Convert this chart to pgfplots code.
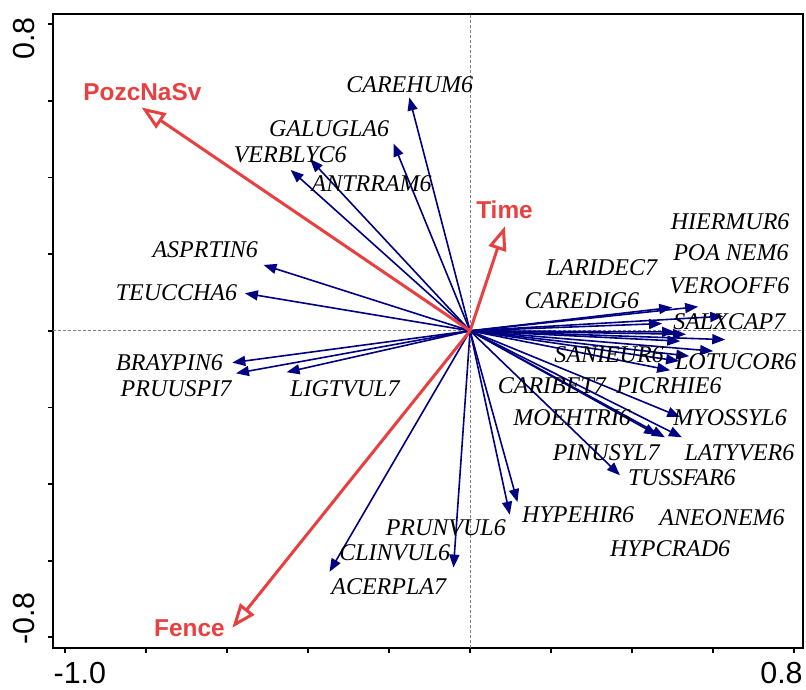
\documentclass[border=0pt]{standalone}
\usepackage{pgfplots}
\pgfplotsset{compat=1.18}
\usepackage{pgfplotstable}
\usepackage{fontspec}
\setmainfont{Liberation Serif}
\setsansfont{Liberation Sans}
\usetikzlibrary{arrows.meta}
\definecolor{envred}{RGB}{232,64,64}
\definecolor{spnavy}{RGB}{0,0,128}
\tikzset{
  sp/.style={font=\itshape\fontsize{12}{12}\selectfont, inner sep=0pt, text=black},
  ev/.style={font=\sffamily\bfseries\fontsize{12.2}{12}\selectfont, inner sep=0pt, text=envred},
  tl/.style={font=\sffamily\fontsize{15.2}{15.2}\selectfont, inner sep=0pt}
}

% species arrows: origin (x,y), tip (u,v)
\pgfplotstableread{
x y u v
0 0 0.563 0.063
0 0 0.499 0.061
0 0 0.474 0.019
0 0 0.625 0.038
0 0 0.506 -0.003
0 0 0.533 -0.009
0 0 0.630 -0.023
0 0 0.519 -0.027
0 0 0.600 -0.053
0 0 0.541 -0.066
0 0 0.516 -0.079
0 0 0.494 -0.103
0 0 0.519 -0.225
0 0 0.462 -0.272
0 0 0.481 -0.278
0 0 0.523 -0.278
0 0 0.370 -0.377
0 0 0.117 -0.447
0 0 0.098 -0.480
0 0 -0.150 0.609
0 0 -0.189 0.489
0 0 -0.395 0.448
0 0 -0.443 0.420
0 0 -0.510 0.172
0 0 -0.556 0.098
0 0 -0.587 -0.083
0 0 -0.578 -0.111
0 0 -0.453 -0.108
0 0 -0.347 -0.629
0 0 -0.041 -0.618
}\species

% environmental arrows
\pgfplotstableread{
x y u v
0 0 -0.811 0.583
0 0 0.086 0.273
0 0 -0.587 -0.775
}\envtab

\begin{document}
\begin{tikzpicture}
\begin{axis}[name=ax, scale only axis, width=374.85pt, height=317pt,
  xmin=-1.029, xmax=0.822, ymin=-0.828, ymax=0.827,
  axis line style={line width=0.85pt},
  xtick={-1,-0.8,-0.6,-0.4,-0.2,0,0.2,0.4,0.6,0.8},
  ytick={-0.8,-0.6,-0.4,-0.2,0,0.2,0.4,0.6,0.8},
  xticklabels={}, yticklabels={},
  tick align=outside, tick pos=left, major tick length=2.5pt,
  tick style={line width=0.85pt, black},
  clip=false]

% zero reference lines
\addplot[gray, line width=0.5pt, dash pattern=on 1.5pt off 1pt] coordinates {(0,-0.828) (0,0.827)};
\addplot[gray, line width=0.5pt, dash pattern=on 1.5pt off 1pt] coordinates {(-1.029,0) (0.822,0)};

% species arrows
\addplot[spnavy, line width=0.8pt, no markers,
  quiver={u=\thisrow{u}, v=\thisrow{v}},
  -{Triangle[length=6.5pt, width=5pt]}] table {\species};

% environmental arrows
\addplot[envred, line width=1.5pt, no markers,
  quiver={u=\thisrow{u}, v=\thisrow{v}},
  -{Triangle[open, length=12pt, width=9pt, line width=1.5pt]}] table {\envtab};

% species labels
\node[sp] at (axis cs:-0.149,0.643) {CAREHUM6};
\node[sp] at (axis cs:-0.348,0.527) {GALUGLA6};
\node[sp] at (axis cs:-0.444,0.459) {VERBLYC6};
\node[sp] at (axis cs:-0.243,0.384) {ANTRRAM6};
\node[sp] at (axis cs:-0.654,0.211) {ASPRTIN6};
\node[sp] at (axis cs:-0.725,0.099) {TEUCCHA6};
\node[sp] at (axis cs:-0.742,-0.084) {BRAYPIN6};
\node[sp] at (axis cs:-0.726,-0.150) {PRUUSPI7};
\node[sp] at (axis cs:-0.309,-0.150) {LIGTVUL7};
\node[sp] at (axis cs:0.642,0.284) {HIERMUR6};
\node[sp] at (axis cs:0.644,0.203) {POA NEM6};
\node[sp] at (axis cs:0.640,0.118) {VEROOFF6};
\node[sp] at (axis cs:0.325,0.165) {LARIDEC7};
\node[sp] at (axis cs:0.276,0.078) {CAREDIG6};
\node[sp] at (axis cs:0.640,0.025) {SALXCAP7};
\node[sp] at (axis cs:0.343,-0.063) {SANIEUR6};
\node[sp] at (axis cs:0.656,-0.081) {LOTUCOR6};
\node[sp] at (axis cs:0.202,-0.144) {CARIBET7};
\node[sp] at (axis cs:0.491,-0.144) {PICRHIE6};
\node[sp] at (axis cs:0.252,-0.227) {MOEHTRI6};
\node[sp] at (axis cs:0.642,-0.228) {MYOSSYL6};
\node[sp] at (axis cs:0.336,-0.319) {PINUSYL7};
\node[sp] at (axis cs:0.665,-0.317) {LATYVER6};
\node[sp] at (axis cs:0.523,-0.383) {TUSSFAR6};
\node[sp] at (axis cs:0.267,-0.481) {HYPEHIR6};
\node[sp] at (axis cs:0.622,-0.489) {ANEONEM6};
\node[sp] at (axis cs:0.494,-0.568) {HYPCRAD6};
\node[sp] at (axis cs:-0.060,-0.515) {PRUNVUL6};
\node[sp] at (axis cs:-0.186,-0.580) {CLINVUL6};
\node[sp] at (axis cs:-0.201,-0.668) {ACERPLA7};

% environmental labels
\node[ev] at (axis cs:-0.809,0.624) {PozcNaSv};
\node[ev] at (axis cs:0.085,0.315) {Time};
\node[ev] at (axis cs:-0.693,-0.776) {Fence};

% tick labels (only at the extremes)
\node[tl, anchor=north west] at ([yshift=-7pt]rel axis cs:0,0) {-1.0};
\node[tl, anchor=north east] at ([yshift=-7pt]rel axis cs:1,0) {0.8};
\node[tl, rotate=90, anchor=south east] at ([shift={(-9pt,-1.5pt)}]rel axis cs:0,1) {0.8};
\node[tl, rotate=90, anchor=south west] at ([shift={(-9pt,1.5pt)}]rel axis cs:0,0) {-0.8};
\end{axis}
\pgfresetboundingbox
\useasboundingbox ([shift={(-26.65pt,-20.5pt)}]ax.south west) rectangle ([shift={(1.5pt,7pt)}]ax.north east);
\end{tikzpicture}
\end{document}
